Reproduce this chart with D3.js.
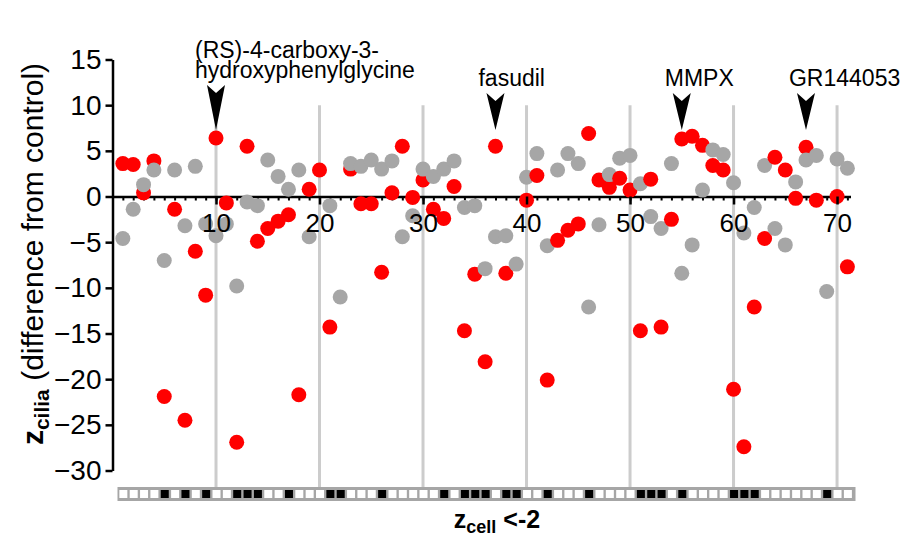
<!DOCTYPE html>
<html>
<head>
<meta charset="utf-8">
<script src="https://cdn.jsdelivr.net/npm/d3@7"></script>
<style>
  body { margin: 0; background: #fff; }
  svg { display: block; font-family: "Liberation Sans", Arial, sans-serif; }
</style>
</head>
<body>
<div id="chart"></div>
<script>
// compound number on the screen, 1..71
const compounds = d3.range(1, 72);

// z_cilia (difference from control), replicate 1 (red) and replicate 2 (grey)
const redValues = [
  3.6, 3.5, 0.4, 3.9, -21.9, -1.4, -24.5, -6.0, -10.8, 6.4,
  -0.7, -26.9, 5.5, -4.9, -3.5, -2.7, -2.0, -21.7, 0.8, 2.9,
  -14.3, null, 3.0, -0.8, -0.8, -8.3, 0.4, 5.5, -0.1, 1.8,
  -1.4, -2.4, 1.1, -14.7, -8.5, -18.1, 5.5, -8.4, null, -0.4,
  2.3, -20.1, -4.8, -3.7, -3.0, 6.9, 1.8, 1.0, 2.0, 0.7,
  -14.7, 1.9, -14.3, -2.5, 6.3, 6.6, 5.6, 3.4, 2.9, -21.1,
  -27.4, -12.1, -4.6, 4.3, 2.9, -0.2, 5.4, -0.4, null, 0.0,
  -7.7
];
const greyValues = [
  -4.6, -1.4, 1.3, 2.9, -7.0, 2.9, -3.2, 3.3, -3.0, -4.3,
  -3.0, -9.8, -0.6, -1.0, 4.0, 2.2, 0.8, 2.9, -4.4, null,
  -1.0, -11.0, 3.6, 3.3, 4.0, 3.0, 3.9, -4.4, -2.1, 3.0,
  2.2, 3.0, 3.9, -1.2, -1.0, -7.9, -4.4, -4.3, -7.4, 2.1,
  4.7, -5.4, 2.9, 4.7, 3.6, -12.1, -3.1, 2.4, 4.2, 4.5,
  1.4, -2.2, -3.5, 3.6, -8.4, -5.3, 0.7, 5.1, 4.6, 1.5,
  -4.0, -1.2, 3.4, -3.5, -5.3, 1.6, 4.0, 4.5, -10.4, 4.1,
  3.1
];

// compounds with z_cell < -2 (black squares in the strip)
const cellHits = [5, 7, 9, 12, 13, 14, 17, 21, 22, 26, 32, 34, 35, 36, 38, 39,
  42, 46, 51, 52, 53, 55, 60, 61, 62, 69];

const annotationLabels = [
  ['(RS)-4-carboxy-3-', 'hydroxyphenylglycine'],
  ['fasudil'],
  ['MMPX'],
  ['GR144053']
];
const annotationCompounds = [10, 37, 55, 67];

const yTicks = [15, 10, 5, 0, -5, -10, -15, -20, -25, -30];
const xTicks = [10, 20, 30, 40, 50, 60, 70];

const width = 909;
const height = 537;
const red = '#ff0000';
const grey = '#a6a6a6';
const font = '"Liberation Sans", Arial, sans-serif';

const svg = d3.select('#chart').append('svg')
  .attr('width', width)
  .attr('height', height);

const x = d3.scaleLinear().domain([0, 71.3]).range([112.5, 850.5]);
const y = d3.scaleLinear().domain([-30, 15]).range([470.5, 59.5]);

const stripTop = 487;

// vertical grey guides every 10 compounds
svg.append('g')
  .selectAll('line')
  .data(xTicks)
  .enter()
  .append('line')
  .attr('x1', (d) => x(d))
  .attr('x2', (d) => x(d))
  .attr('y1', y(10))
  .attr('y2', stripTop)
  .attr('stroke', '#cccccc')
  .attr('stroke-width', 3);

// y axis
const yAxis = svg.append('g')
  .attr('transform', `translate(${x(0)}, 0)`)
  .call(d3.axisLeft(y).tickValues(yTicks).tickSize(7).tickSizeOuter(0).tickPadding(4));
yAxis.select('.domain').attr('stroke-width', 2.5);
yAxis.selectAll('.tick line').attr('stroke-width', 2.5);
yAxis.selectAll('.tick text')
  .attr('font-size', 28)
  .attr('font-family', font);

// x axis at zero: minor ticks for every compound
const xMinor = svg.append('g')
  .attr('transform', `translate(0, ${y(0)})`)
  .call(d3.axisBottom(x).tickValues(compounds).tickSize(4).tickSizeOuter(0).tickFormat(''));
xMinor.select('.domain').attr('stroke-width', 2.5);
xMinor.selectAll('.tick line').attr('stroke-width', 2);

// points, drawn compound by compound (red then grey)
const points = compounds.flatMap((c, k) => [
  { c, v: redValues[k], color: red },
  { c, v: greyValues[k], color: grey }
]).filter((d) => d.v !== null);

svg.append('g')
  .selectAll('circle')
  .data(points)
  .enter()
  .append('circle')
  .attr('r', 7.5)
  .attr('cx', (d) => x(d.c))
  .attr('cy', (d) => y(d.v))
  .attr('fill', (d) => d.color);

// major ticks and labels sit above the points
const xMajor = svg.append('g')
  .attr('transform', `translate(0, ${y(0)})`)
  .call(d3.axisBottom(x).tickValues(xTicks).tickSize(8).tickSizeOuter(0).tickPadding(9));
xMajor.select('.domain').remove();
xMajor.selectAll('.tick line').attr('stroke-width', 2.5);
xMajor.selectAll('.tick text')
  .attr('font-size', 26)
  .attr('font-family', font);

// z_cell strip
svg.append('rect')
  .attr('x', x(0) + 5)
  .attr('y', stripTop)
  .attr('width', x(71.3) - x(0))
  .attr('height', 14)
  .attr('fill', '#a6a6a6');

svg.append('g')
  .selectAll('rect')
  .data(compounds)
  .enter()
  .append('rect')
  .attr('x', (d) => x(d) - 3.5)
  .attr('y', stripTop + 3)
  .attr('width', 8)
  .attr('height', 8)
  .attr('fill', (d) => (cellHits.includes(d) ? '#000' : '#fff'));

// annotations with arrowheads
annotationLabels.forEach((lines, k) => {
  const cx = x(annotationCompounds[k]);
  const multi = lines.length > 1;
  const lastBaseline = multi ? 78 : 86;
  const left = multi ? cx - 21 : cx - 17;
  const top = lastBaseline + 7;
  const tip = 130;

  svg.append('path')
    .attr('d', `M${cx - 9},${top} L${cx},${top + 8} L${cx + 9},${top} L${cx},${tip} Z`)
    .attr('fill', '#000');

  const label = svg.append('text')
    .attr('font-size', 23)
    .attr('fill', '#000');
  lines.forEach((line, j) => {
    label.append('tspan')
      .attr('x', left)
      .attr('y', lastBaseline - (lines.length - 1 - j) * 20)
      .text(line);
  });
});

// y title
const yTitle = svg.append('text')
  .attr('transform', 'translate(43, 254) rotate(-90)')
  .attr('text-anchor', 'middle')
  .attr('font-size', 30)
  .attr('fill', '#000');
yTitle.append('tspan').attr('font-weight', 'bold').text('z');
yTitle.append('tspan').attr('font-weight', 'bold').attr('font-size', 21).attr('dy', 6).text('cilia');
yTitle.append('tspan').attr('dy', -6).text(' (difference from control)');

// x title
const xTitle = svg.append('text')
  .attr('x', 497)
  .attr('y', 528)
  .attr('text-anchor', 'middle')
  .attr('font-size', 25)
  .attr('font-weight', 'bold')
  .attr('fill', '#000');
xTitle.append('tspan').text('z');
xTitle.append('tspan').attr('font-size', 18).attr('dy', 5).text('cell');
xTitle.append('tspan').attr('dy', -5).text(' <-2');
</script>
</body>
</html>
